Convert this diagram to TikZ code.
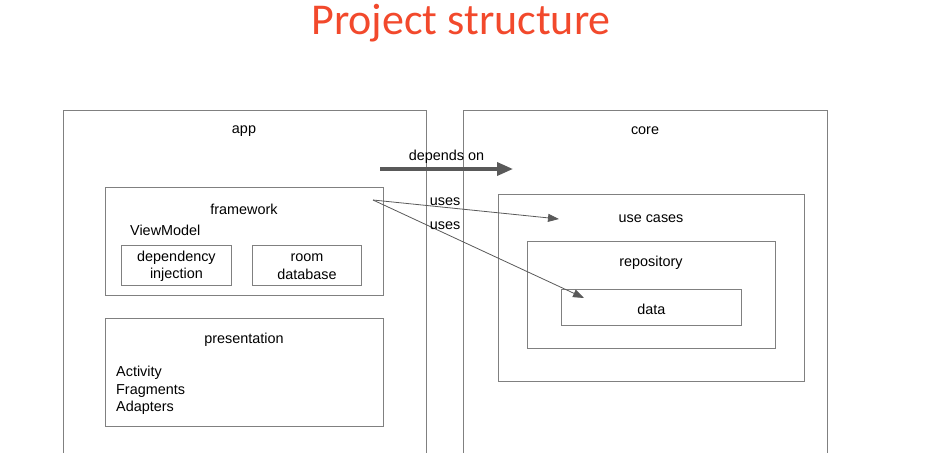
\documentclass[tikz,border=0pt]{standalone}
\usepackage{fontspec}
\setmainfont{Liberation Sans}
\newfontfamily\titlefont{Carlito}
\usepackage{xcolor}
\usepackage{tikz}
\usetikzlibrary{arrows.meta, positioning}

\definecolor{linegray}{HTML}{808080}
\definecolor{arrowgray}{HTML}{595959}
\definecolor{titlered}{HTML}{F2492C}

\begin{document}
\begin{tikzpicture}[
    x=1pt, y=-1pt,
    box/.style={rectangle, draw=linegray, line width=0.9pt, anchor=north west, inner sep=0pt},
    lbl/.style={font=\fontsize{14.4}{17.5}\selectfont, inner sep=0pt, align=center},
    uses/.style={-{Triangle[length=11pt,width=8pt]}, draw=arrowgray, line width=0.8pt},
    depends/.style={-{Triangle[length=16pt,width=13pt]}, draw=arrowgray, line width=3.5pt}
]
\useasboundingbox (0,0) rectangle (928,452);
\clip (0,0) rectangle (928,452);

\node[font=\titlefont\fontsize{44}{50}\selectfont, text=titlered, inner sep=0pt] (title) at (461,23) {Project structure};

% the two modules
\node[box, minimum width=363pt, minimum height=400pt] (app) at (63,110) {};
\node[box, minimum width=364pt, minimum height=400pt] (core) at (463,110) {};
\node[lbl] (applbl) at (244,131) {app};
\node[lbl] (corelbl) at (645,131) {core};

% app side
\node[box, minimum width=278pt, minimum height=108pt] (framework) at (105,187) {};
\node[lbl] (frameworklbl) at (244,209) {framework};
\node[lbl, anchor=west] (viewmodel) at (130,230) {ViewModel};
\node[box, minimum width=110pt, minimum height=40pt] (di) at (121,245) {};
\node[lbl] (dilbl) at ([yshift=-1pt]di.center) {dependency\\injection};
\node[box, minimum width=109pt, minimum height=40pt] (room) at (252,245) {};
\node[lbl] (roomlbl) at ([yshift=-1pt]room.center) {room\\database};

\node[box, minimum width=278pt, minimum height=108pt] (presentation) at (105,318) {};
\node[lbl] (presentationlbl) at (244,340) {presentation};
\node[lbl, align=left, anchor=north west] (uilist) at (116,366) {Activity\\Fragments\\Adapters};

% core side
\node[box, minimum width=306pt, minimum height=187pt] (usecases) at (498,194) {};
\node[lbl] (usecaseslbl) at (651,219) {use cases};
\node[box, minimum width=248pt, minimum height=107pt] (repository) at (527,241) {};
\node[lbl] (repositorylbl) at (651,263) {repository};
\node[box, minimum width=180pt, minimum height=36pt] (data) at (561,289) {};
\node[lbl] (datalbl) at ([yshift=-2pt]data.center) {data};

% dependencies
\coordinate (dstart) at (380,169);
\coordinate (dend) at (513,169);
\draw[depends] (dstart) -- node[lbl, above=4pt] (dependslbl) {depends on} (dend);

\coordinate (fwsrc) at (373,200);
\coordinate (ucdst) at (559,219);
\coordinate (datadst) at (584,298);
\draw[uses] (fwsrc) -- (ucdst);
\draw[uses] (fwsrc) -- (datadst);
\node[lbl] (uses1) at (445,202) {uses};
\node[lbl] (uses2) at (445,226) {uses};

\end{tikzpicture}
\end{document}
